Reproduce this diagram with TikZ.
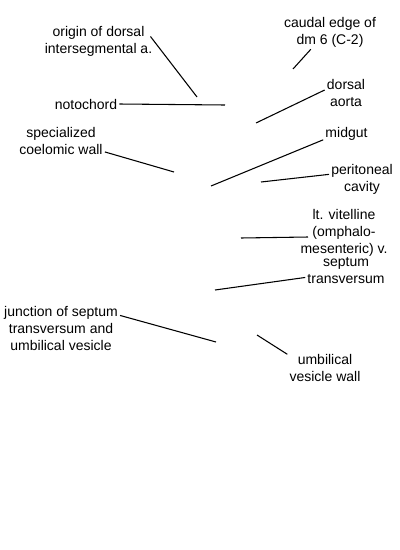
\documentclass[tikz,border=0pt]{standalone}
\usepackage{fontspec}
\setmainfont{Liberation Sans}
\usetikzlibrary{calc}

\begin{document}
\begin{tikzpicture}[x=0.75pt, y=-0.75pt,
		lbl/.style={align=center, inner sep=1.5pt, font=\fontsize{10.5}{12.75}\selectfont},
		lead/.style={line width=0.8pt}]
		\useasboundingbox (0,0) rectangle (400,550);
		
		% labels
		\node[lbl] (origin) at (98.5,41.5) {origin of dorsal\\intersegmental a.};
		\node[lbl] (noto) at (86,104) {notochord};
		\node[lbl] (spec) at (61,141) {specialized\\coelomic wall};
		\node[lbl] (caudal) at (330,32) {caudal edge of\\dm 6 (C-2)};
		\node[lbl] (dorsal) at (346,93) {dorsal\\aorta};
		\node[lbl] (midgut) at (346.5,134) {midgut};
		\node[lbl] (perit) at (362,179) {peritoneal\\cavity};
		\node[lbl] (vit) at (344,233) {lt. vitelline\\(omphalo-\\mesenteric) v.};
		\node[lbl] (sept) at (346,271) {septum\\transversum};
		\node[lbl] (junc) at (61,328) {junction of septum\\transversum and\\umbilical vesicle};
		\node[lbl] (umb) at (325,368) {umbilical\\vesicle wall};
		
		% tips of the leaders
		\coordinate (t-origin) at (197,97);
		\coordinate (t-noto) at (225,105);
		\coordinate (t-spec) at (174,172);
		\coordinate (t-caudal) at (293,69);
		\coordinate (t-dorsal) at (256,123);
		\coordinate (t-midgut) at (211,186);
		\coordinate (t-perit) at (261,182);
		\coordinate (t-vit) at (241,238);
		\coordinate (t-sept) at (215,290);
		\coordinate (t-junc) at (216,342);
		\coordinate (t-umb) at (257,335);
		
		\draw[lead] ($(origin.east)+(-4,-5)$) -- (t-origin);
		\draw[lead] (noto.east) -- (t-noto);
		\draw[lead] (spec.-14) -- (t-spec);
		\draw[lead] (caudal.-138) -- (t-caudal);
		\draw[lead] (dorsal.172) -- (t-dorsal);
		\draw[lead] (midgut.-166) -- (t-midgut);
		\draw[lead] (perit.172) -- (t-perit);
		\draw[lead] ($(vit.center)+(-36,4)$) -- (t-vit);
		\draw[lead] (sept.-171) -- (t-sept);
		\draw[lead] (junc.12) -- (t-junc);
		\draw[lead] (umb.160) -- (t-umb);
	\end{tikzpicture}
\end{document}
